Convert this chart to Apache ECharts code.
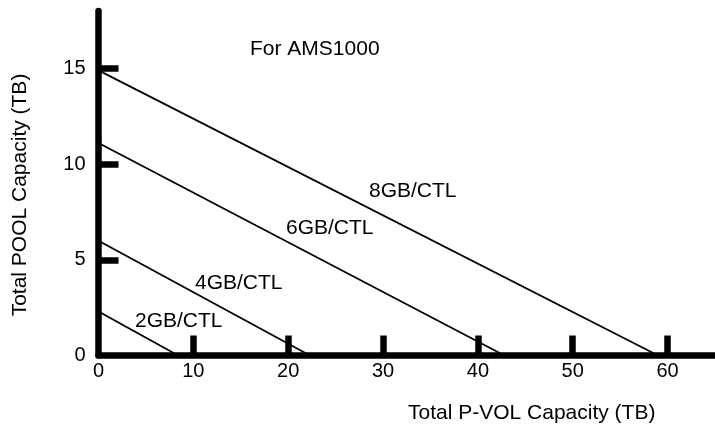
<!DOCTYPE html>
<html>
<head>
<meta charset="utf-8">
<script src="https://cdn.jsdelivr.net/npm/echarts@6/dist/echarts.min.js"></script>
<style>
html,body{margin:0;padding:0;background:#fff;}
#chart{width:715px;height:430px;}
</style>
</head>
<body>
<div id="chart"></div>
<script>
// Data
const seriesNames = ['8GB/CTL', '6GB/CTL', '4GB/CTL', '2GB/CTL'];
const poolAtZero = [14.9, 11.1, 6.0, 2.3];   // Total POOL capacity (TB) when P-VOL = 0
const pvolAtZero = [59.0, 42.8, 22.3, 8.4];  // Total P-VOL capacity (TB) when POOL = 0
const xTickValues = [10, 20, 30, 40, 50, 60];
const xLabelValues = [0, 10, 20, 30, 40, 50, 60];
const yTickValues = [5, 10, 15];
const yLabelValues = [0, 5, 10, 15];
const xAxisTitle = 'Total P-VOL Capacity (TB)';
const yAxisTitle = 'Total POOL Capacity (TB)';
const noteText = 'For AMS1000';

// Layout (label positions, pixels)
const lineLabelPos = [[369, 191], [286, 228], [195, 283.5], [135, 321.5]];

const FONT = 'Arial, "Liberation Sans", Helvetica, sans-serif';
const chart = echarts.init(document.getElementById('chart'), null, {renderer: 'canvas'});

const series = seriesNames.map((name, i) => ({
  name: name,
  type: 'line',
  data: [[0, poolAtZero[i]], [pvolAtZero[i], 0]],
  symbol: 'none',
  silent: true,
  lineStyle: {color: '#000', width: 1.8},
  z: 3
}));

const graphics = seriesNames.map((name, i) => ({
  type: 'text',
  x: lineLabelPos[i][0],
  y: lineLabelPos[i][1],
  style: {text: name, font: '21px ' + FONT, fill: '#000', textVerticalAlign: 'middle', textAlign: 'left'}
}));
graphics.push({
  type: 'text', x: 250, y: 49,
  style: {text: noteText, font: '21px ' + FONT, fill: '#000', textVerticalAlign: 'middle', textAlign: 'left'}
});
graphics.push({
  type: 'text', x: 408, y: 413.5,
  style: {text: xAxisTitle, font: '21px ' + FONT, fill: '#000', textVerticalAlign: 'middle', textAlign: 'left'}
});
graphics.push({
  type: 'text', x: 20.5, y: 195, rotation: Math.PI / 2,
  style: {text: yAxisTitle, font: '21px ' + FONT, fill: '#000', textVerticalAlign: 'middle', textAlign: 'center'}
});

chart.setOption({
  animation: false,
  backgroundColor: '#fff',
  grid: {left: 98.5, right: 0, top: 11, bottom: 74.5, containLabel: false, outerBoundsMode: 'none'},
  xAxis: {
    type: 'value', min: 0, max: 65,
    splitLine: {show: false},
    axisLine: {show: true, onZero: false, lineStyle: {color: '#000', width: 6.5}},
    axisTick: {show: true, inside: true, length: 20, customValues: xTickValues, lineStyle: {color: '#000', width: 6.5}},
    axisLabel: {show: true, customValues: xLabelValues, fontSize: 20, fontFamily: FONT, color: '#000', margin: 6}
  },
  yAxis: {
    type: 'value', min: 0, max: 18,
    splitLine: {show: false},
    axisLine: {show: true, onZero: false, lineStyle: {color: '#000', width: 6.5}},
    axisTick: {show: true, inside: true, length: 20, customValues: yTickValues, lineStyle: {color: '#000', width: 6.5}},
    axisLabel: {show: true, customValues: yLabelValues, fontSize: 20, fontFamily: FONT, color: '#000', margin: 13}
  },
  series: series,
  graphic: graphics
});
</script>
</body>
</html>
